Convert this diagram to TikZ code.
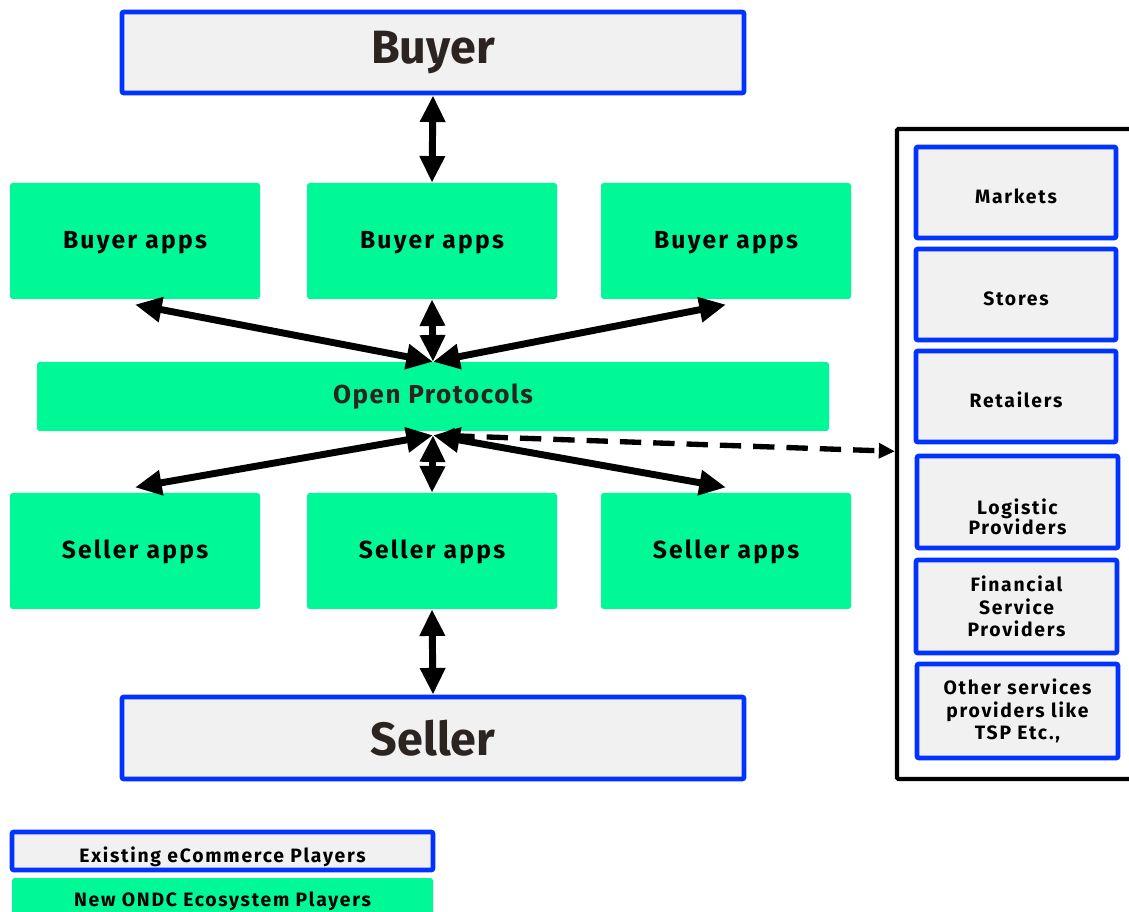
\documentclass[tikz,border=0pt]{standalone}
\usepackage{fontspec}
\setmainfont{Fira Sans}
\newfontfamily\lblf[LetterSpace=9]{Fira Sans}
\newfontfamily\headf{Fira Sans}
\usetikzlibrary{arrows.meta}
\definecolor{bblue}{RGB}{0,51,255}
\definecolor{ggreen}{RGB}{0,249,150}
\definecolor{lgray}{RGB}{241,241,241}
\definecolor{dtext}{RGB}{43,36,32}
\newcommand{\bx}[7]{\node[#6, minimum width={(#4-#2)*0.75pt}, minimum height={(#5-#3)*0.75pt}] (#1) at ({(#2+#4)/2},{(#3+#5)/2}) {#7};}
\newcommand{\dn}[2]{\raisebox{-#1}[\height][\depth]{#2}}
\begin{document}
\begin{tikzpicture}[x=0.75pt,y=-0.75pt,
  existing/.style={draw=bblue, line width=3.6pt, fill=lgray, rounded corners=1.5pt, inner sep=0pt, align=center, text=black},
  newp/.style={fill=ggreen, rounded corners=2pt, inner sep=0pt, align=center, text=black},
  appfont/.style={font=\lblf\bfseries\fontsize{18.5}{21}\selectfont},
  sidefont/.style={font=\lblf\bfseries\fontsize{14.5}{17}\selectfont},
  bigfont/.style={font=\headf\bfseries\fontsize{35}{38}\selectfont, text=dtext},
  link/.style={line width=5.2pt, {Triangle[length=20pt,width=18pt]}-{Triangle[length=20pt,width=18pt]}},
  dlink/.style={line width=4pt, dash pattern=on 16pt off 9pt, {Triangle[length=12pt,width=11pt]}-{Triangle[length=12pt,width=11pt]}}
]
\useasboundingbox (0,0) rectangle (1129,912);
\begin{scope}
\clip (0,0) rectangle (1129,912);
% top / bottom players
\bx{buyer}{122}{12}{744}{93}{existing,bigfont}{Buyer}
\bx{seller}{122}{697}{744}{779}{existing,bigfont}{Seller}
% apps
\bx{ba1}{10}{183}{260}{299}{newp,appfont}{\dn{1.5pt}{Buyer apps}}
\bx{ba2}{307}{183}{557}{299}{newp,appfont}{\dn{1.5pt}{Buyer apps}}
\bx{ba3}{601}{183}{851}{299}{newp,appfont}{\dn{1.5pt}{Buyer apps}}
\bx{op}{37}{362}{829}{431}{newp,font=\headf\bfseries\fontsize{19.5}{22}\selectfont,text=dtext}{\addfontfeature{LetterSpace=6}Open Protocols}
\bx{sa1}{10}{493}{260}{609}{newp,appfont}{\dn{1pt}{Seller apps}}
\bx{sa2}{307}{493}{557}{609}{newp,appfont}{\dn{1pt}{Seller apps}}
\bx{sa3}{601}{493}{851}{609}{newp,appfont}{\dn{1pt}{Seller apps}}
% right container
\bx{cont}{897}{129}{1140}{779}{draw=black,line width=3.2pt,inner sep=0pt,rounded corners=1pt}{}
\bx{mk}{916}{147}{1116}{238}{existing,sidefont}{\dn{3pt}{Markets}}
\bx{st}{916}{249}{1116}{340}{existing,sidefont}{\dn{3pt}{Stores}}
\bx{rt}{916}{351}{1116}{442}{existing,sidefont}{\dn{2.5pt}{Retailers}}
\bx{lg}{917}{456}{1118}{548}{existing,sidefont}{\raisebox{-17pt}[0pt][0pt]{\begin{tabular}{@{}c@{}}Logistic\\[-2pt]Providers\end{tabular}}}
\bx{fs}{916}{560}{1117}{653}{existing,sidefont}{Financial\\Service\\Providers}
\bx{ot}{917}{664}{1118}{758}{existing,sidefont}{Other services\\providers like\\TSP Etc.,}
% legend
\bx{lex}{12}{832}{433}{870}{existing,sidefont}{\dn{4pt}{Existing eCommerce Players}}
\bx{lnew}{12}{878}{433}{920}{newp,sidefont}{\dn{1.5pt}{New ONDC Ecosystem Players}}
% connectors
\coordinate (optop) at (op.north);
\coordinate (opbot) at ([yshift=-3]op.south);
\draw[link] (buyer.south) -- (ba2.north);
\draw[link] (seller.north) -- (sa2.south);
\draw[link] (ba2.south) -- (optop);
\draw[link] ([yshift=-4]ba1.south) -- (optop);
\draw[link] ([yshift=-4]ba3.south) -- (optop);
\draw[link] (opbot) -- (sa2.north);
\draw[link] (opbot) -- ([yshift=4]sa1.north);
\draw[link] (opbot) -- ([yshift=4]sa3.north);
\coordinate (cin) at ([yshift=2]cont.west);
\draw[dlink] ([xshift=4]opbot) -- (cin);
\end{scope}
\end{tikzpicture}
\end{document}
